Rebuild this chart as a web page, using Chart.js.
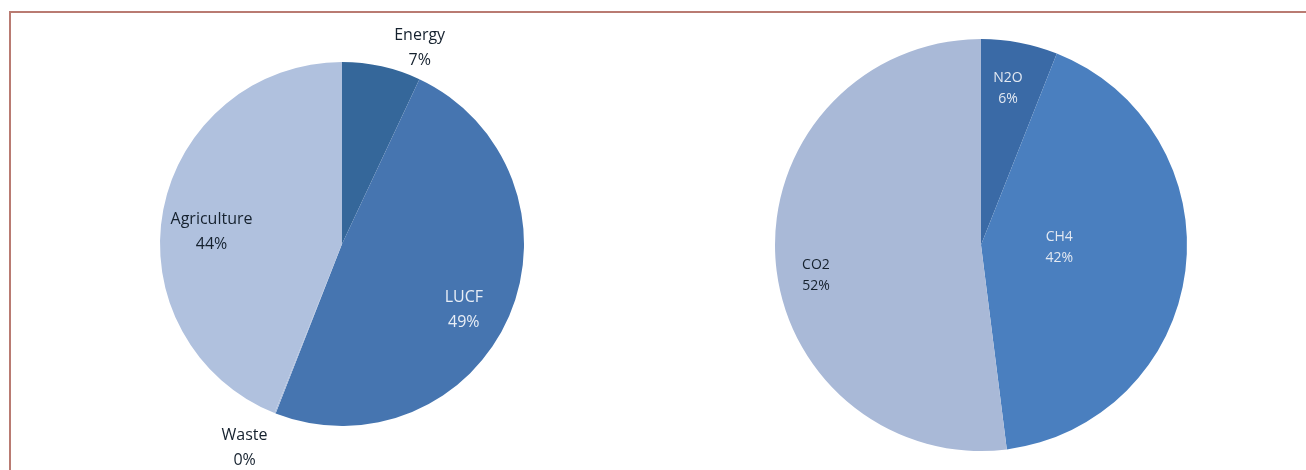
<!DOCTYPE html>
<html>
<head>
<meta charset="utf-8">
<script src="https://cdn.jsdelivr.net/npm/chart.js@4"></script>
<style>
  html, body { margin: 0; background: #fff; overflow: hidden; }
  #marco {
    position: absolute; left: 9px; top: 11px; right: 0; height: 457px;
    border-top: 2px solid #b97b72; border-left: 2px solid #b97b72;
  }
  .caja { position: absolute; top: 0; width: 600px; height: 470px; }
</style>
</head>
<body>
<div id="marco"></div>
<div class="caja" style="left:42px"><canvas id="chartSectores"></canvas></div>
<div class="caja" style="left:681px"><canvas id="chartGases"></canvas></div>
<script>
// Emissions by sector (%)
const sectores = ['Energy', 'LUCF', 'Waste', 'Agriculture'];
const valoresSectores = [7, 49, 0.1, 44];
const etiquetasSectores = ['7%', '49%', '0%', '44%'];

// Emissions by gas (%)
const gases = ['N2O', 'CH4', 'CO2'];
const valoresGases = [6, 42, 52];
const etiquetasGases = ['6%', '42%', '52%'];

// Label placement: [angle shift in degrees from slice middle, radius factor]
const posSectores = [[9, 1.16], [5, 0.76], [4, 1.24], [-5.5, 0.72]];
const posGases = [[-1, 0.77], [-5, 0.38], [-7, 0.815]];

// Plugin that writes "name / value" labels around each slice
const etiquetasPlugin = {
    id: 'etiquetas',
    afterDatasetsDraw(chart, args, opts) {
        const ctx = chart.ctx;
        const meta = chart.getDatasetMeta(0);
        ctx.save();
        ctx.font = opts.font;
        ctx.textAlign = 'center';
        ctx.textBaseline = 'middle';
        meta.data.forEach((arc, i) => {
            const p = arc.getProps(['x', 'y', 'startAngle', 'endAngle', 'outerRadius'], true);
            const medio = (p.startAngle + p.endAngle) / 2 + opts.pos[i][0] * Math.PI / 180;
            const r = p.outerRadius * opts.pos[i][1];
            const x = p.x + Math.cos(medio) * r;
            const y = p.y + Math.sin(medio) * r;
            ctx.fillStyle = opts.colores[i];
            ctx.fillText(chart.data.labels[i], x, y - opts.salto / 2);
            ctx.fillText(opts.textos[i], x, y + opts.salto / 2);
        });
        ctx.restore();
    }
};

const crearPastel = (id, etiquetas, valores, colores, radio, padTop, opcEtiquetas) => {
    const ctx = document.getElementById(id).getContext('2d');
    return new Chart(ctx, {
        type: 'pie',
        data: {
            labels: etiquetas,
            datasets: [{
                data: valores,
                backgroundColor: colores,
                borderWidth: 0,
                radius: radio
            }]
        },
        options: {
            responsive: true,
            maintainAspectRatio: false,
            animation: false,
            layout: { padding: { top: padTop } },
            plugins: {
                legend: { display: false },
                tooltip: { enabled: false },
                etiquetas: opcEtiquetas
            }
        },
        plugins: [etiquetasPlugin]
    });
};

crearPastel('chartSectores', sectores, valoresSectores,
    ['#35679a', '#4675b0', '#a9bbdb', '#b0c1de'], 182, 18, {
        font: '16px "Open Sans", sans-serif',
        salto: 25,
        pos: posSectores,
        textos: etiquetasSectores,
        colores: ['#15212e', '#e8eef6', '#15212e', '#15212e']
    });

crearPastel('chartGases', gases, valoresGases,
    ['#3a6aa6', '#4a7fbf', '#a9b9d7'], 206, 20, {
        font: '14px "Open Sans", sans-serif',
        salto: 21,
        pos: posGases,
        textos: etiquetasGases,
        colores: ['#e3e9f2', '#e3e9f2', '#15212e']
    });
</script>
</body>
</html>
